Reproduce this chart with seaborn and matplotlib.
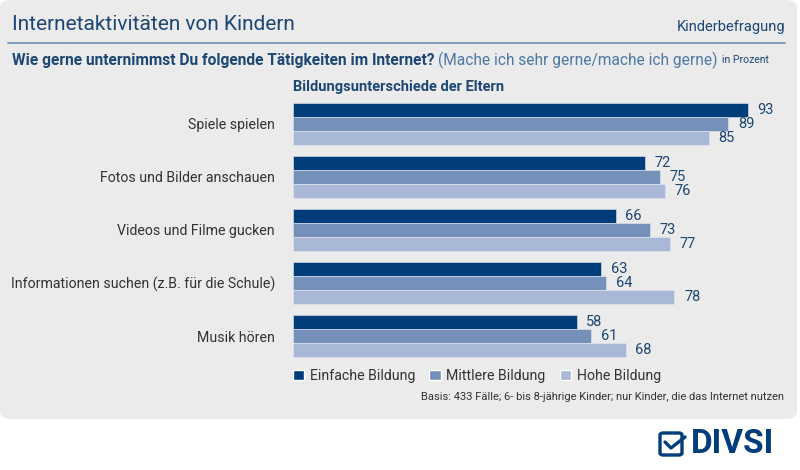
import numpy as np
import pandas as pd
import seaborn as sns
import matplotlib.pyplot as plt
from matplotlib.patches import FancyBboxPatch, Rectangle
from matplotlib.lines import Line2D

categories = ["Spiele spielen", "Fotos und Bilder anschauen", "Videos und Filme gucken",
              "Informationen suchen (z.B. für die Schule)", "Musik hören"]
groups = ["Einfache Bildung", "Mittlere Bildung", "Hohe Bildung"]
einfach = [93, 72, 66, 63, 58]
mittel = [89, 75, 73, 64, 61]
hoch = [85, 76, 77, 78, 68]

colors = ["#003d7a", "#7590b9", "#a9b8d6"]
dark = "#1c4673"

df = pd.DataFrame({
    "Tätigkeit": categories * 3,
    "Bildung": [g for g in groups for _ in categories],
    "Wert": einfach + mittel + hoch,
})

sns.set_theme(style="white")
plt.rcParams["font.family"] = ["Roboto", "DejaVu Sans"]

fig = plt.figure(figsize=(8, 4.7), dpi=100)
fig.patch.set_facecolor("white")

# grey panel
fig.patches.append(FancyBboxPatch((0.0, 1 - 419 / 470), 797 / 800, 419 / 470,
                                  boxstyle="round,pad=0,rounding_size=0.015",
                                  transform=fig.transFigure, facecolor="#ebebeb",
                                  edgecolor="none", zorder=-5))

ax = fig.add_axes([293 / 800, 1 - 362.5 / 470, 489 / 800, 265 / 470])
ax.set_facecolor("none")
sns.barplot(data=df, x="Wert", y="Tätigkeit", hue="Bildung", palette=colors,
            orient="h", width=0.8, ax=ax, legend=False, saturation=1,
            edgecolor="#e4e8f0", linewidth=0.4)
ax.set_xlim(0, 100)
ax.set_ylim(4.5, -0.5)
ax.set_xlabel("")
ax.set_ylabel("")
ax.set_xticks([])
ax.tick_params(axis="y", length=0, pad=13, labelsize=10.2, labelcolor="#333333")
for s in ax.spines.values():
    s.set_visible(False)
for c in ax.containers:
    ax.bar_label(c, padding=7, fontsize=10.5, color=dark)

# header
fig.text(12 / 800, 1 - 25 / 470, "Internetaktivitäten von Kindern", fontsize=15,
         color=dark, va="center")
fig.text(785 / 800, 1 - 27 / 470, "Kinderbefragung", fontsize=10.5, color=dark,
         va="center", ha="right")
fig.lines.append(Line2D([8 / 800, 785 / 800], [1 - 43 / 470] * 2, transform=fig.transFigure,
                        color="#6f8fb5", lw=1.2))

renderer = fig.canvas.get_renderer()
x = 12 / 800
for txt, kw in [("Wie gerne unternimmst Du folgende Tätigkeiten im Internet? ",
                 dict(fontsize=11.2, fontweight="bold", color=dark)),
                ("(Mache ich sehr gerne/mache ich gerne) ",
                 dict(fontsize=11.2, color="#4d78a6")),
                ("in Prozent", dict(fontsize=7.5, color=dark))]:
    t = fig.text(x, 1 - 60 / 470, txt, va="center", **kw)
    bb = t.get_window_extent(renderer)
    x += bb.width / fig.bbox.width

fig.text(293 / 800, 1 - 87 / 470, "Bildungsunterschiede der Eltern", fontsize=10.5,
         fontweight="bold", color=dark, va="center")

# legend
handles = [Rectangle((0, 0), 1, 1, facecolor=c) for c in colors]
fig.legend(handles, groups, loc="center left", bbox_to_anchor=(280 / 800, 1 - 376 / 470),
           ncol=3, frameon=False, fontsize=10.2, handlelength=0.8, handleheight=0.8,
           handletextpad=0.4, columnspacing=1.0, labelcolor="#333333")

fig.text(784 / 800, 1 - 397 / 470,
         "Basis: 433 Fälle; 6- bis 8-jährige Kinder; nur Kinder, die das Internet nutzen",
         fontsize=8, color="#333333", ha="right", va="center")

# logo
fig.patches.append(FancyBboxPatch((660 / 800, 1 - 455 / 470), 22 / 800, 22 / 470,
                                  boxstyle="round,pad=0,rounding_size=0.004",
                                  transform=fig.transFigure, facecolor="none",
                                  edgecolor="#003d7a", lw=2.4))
fig.lines.append(Line2D([665 / 800, 671 / 800, 685 / 800],
                        [1 - 442 / 470, 1 - 448 / 470, 1 - 437 / 470],
                        transform=fig.transFigure, color="#003d7a", lw=2.4))
fig.text(691 / 800, 1 - 444 / 470, "DIVSI", fontsize=24, fontweight="bold",
         color="#003d7a", va="center")

fig.savefig("out.png", dpi=100)
